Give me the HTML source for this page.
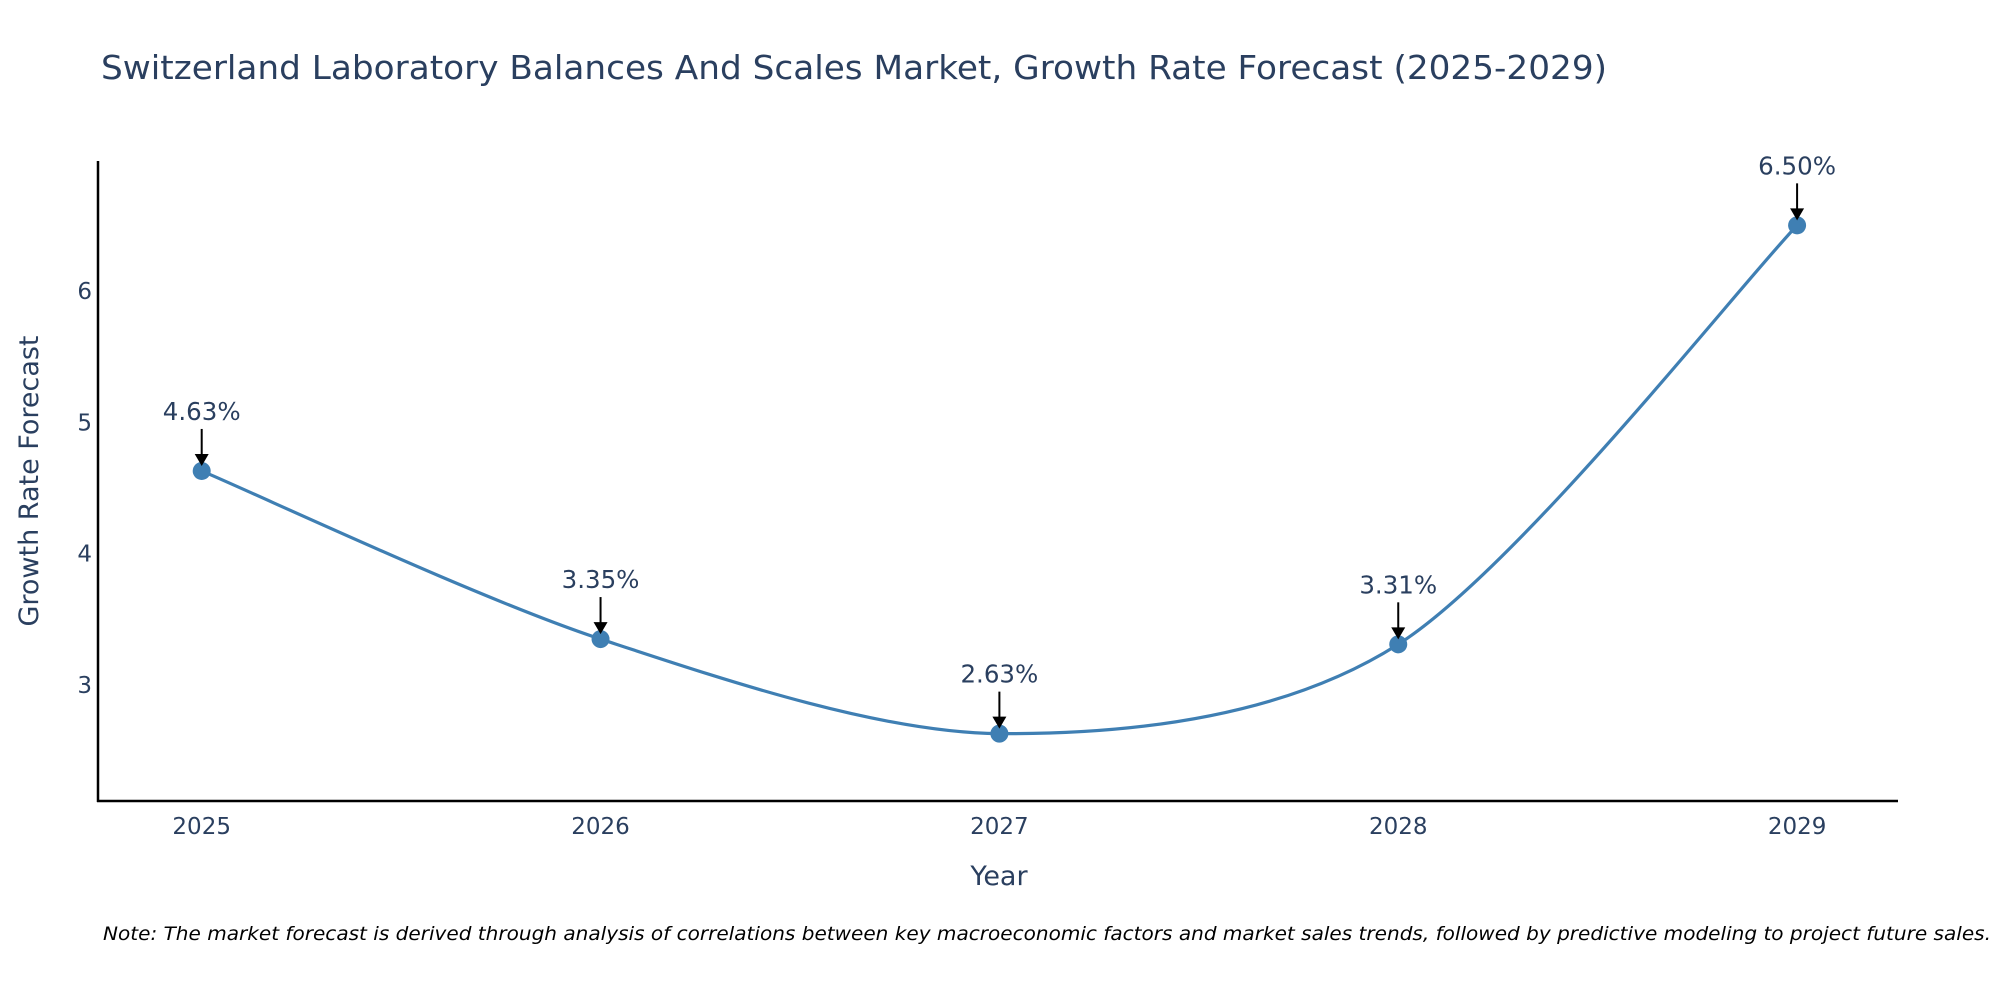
<!DOCTYPE html>
<html><head><meta charset="utf-8"><style>
body{margin:0;background:#fff}
svg text{font-family:"DejaVu Sans","Liberation Sans",sans-serif}
</style></head><body>
<svg id="chart" width="2000" height="1000" xmlns="http://www.w3.org/2000/svg">
<text x="101" y="79" font-size="33" fill="#2a3f5f" textLength="1506" lengthAdjust="spacingAndGlyphs">Switzerland Laboratory Balances And Scales Market, Growth Rate Forecast (2025-2029)</text>
<g id="yticks"></g>
<g id="xticks"></g>
<line x1="98" y1="161" x2="98" y2="802" stroke="#000" stroke-width="2.5"/>
<line x1="97" y1="801" x2="1898" y2="801" stroke="#000" stroke-width="2.5"/>
<g id="series"></g>
<g id="annots"></g>
<text transform="translate(38,481) rotate(-90)" text-anchor="middle" font-size="27" fill="#2a3f5f">Growth Rate Forecast</text>
<text x="999" y="885" text-anchor="middle" font-size="27" fill="#2a3f5f">Year</text>
<text x="103" y="940" font-size="19" font-style="italic" fill="#000" textLength="1888" lengthAdjust="spacingAndGlyphs">Note: The market forecast is derived through analysis of correlations between key macroeconomic factors and market sales trends, followed by predictive modeling to project future sales.</text>
</svg>
<script>
const years = [2025, 2026, 2027, 2028, 2029];
const values = [4.63, 3.35, 2.63, 3.31, 6.50];
const labels = ["4.63%", "3.35%", "2.63%", "3.31%", "6.50%"];
const yTicks = [3, 4, 5, 6];

const NS = "http://www.w3.org/2000/svg";
const X0 = 98, X1 = 1898, Y0 = 801, Y1 = 161;
const xmin = 2024.74, xmax = 2029.253, ymin = 2.117, ymax = 6.99;
const xs = v => X0 + (v - xmin) / (xmax - xmin) * (X1 - X0);
const ys = v => Y0 - (v - ymin) / (ymax - ymin) * (Y0 - Y1);
function mk(tag, attrs, parent) {
  const e = document.createElementNS(NS, tag);
  for (const k in attrs) e.setAttribute(k, attrs[k]);
  parent.appendChild(e);
  return e;
}
const yg = document.getElementById('yticks');
yTicks.forEach(t => {
  const e = mk('text', {x: 92, y: ys(t) + 8, 'text-anchor': 'end', 'font-size': 23, fill: '#2a3f5f'}, yg);
  
  
  e.textContent = t;
});
const xg = document.getElementById('xticks');
years.forEach(y => {
  const e = mk('text', {x: xs(y), y: 834, 'text-anchor': 'middle', 'font-size': 23, fill: '#2a3f5f'}, xg);
  
  
  e.textContent = y;
});
const pts = years.map((y, i) => [xs(y), ys(values[i])]);
let d = `M${pts[0][0]},${pts[0][1]}`;
const s = 0.15;
for (let i = 0; i < pts.length - 1; i++) {
  const p0 = pts[Math.max(i - 1, 0)], p1 = pts[i], p2 = pts[i + 1], p3 = pts[Math.min(i + 2, pts.length - 1)];
  const c1 = [p1[0] + (p2[0] - p0[0]) * s, p1[1] + (p2[1] - p0[1]) * s];
  const c2 = [p2[0] - (p3[0] - p1[0]) * s, p2[1] - (p3[1] - p1[1]) * s];
  d += ` C${c1[0]},${c1[1]} ${c2[0]},${c2[1]} ${p2[0]},${p2[1]}`;
}
const sg = document.getElementById('series');
const line = mk('path', {d: d, fill: 'none', stroke: '#3f7fb3', 'stroke-width': 3.2}, sg);


pts.forEach(p => {
  const c = mk('circle', {cx: p[0], cy: p[1], r: 9, fill: '#3f7fb3'}, sg);
  
  
});
const ag = document.getElementById('annots');
pts.forEach((p, i) => {
  mk('line', {x1: p[0], y1: p[1] - 42, x2: p[0], y2: p[1] - 16, stroke: '#000', 'stroke-width': 2}, ag);
  const a = mk('path', {d: `M${p[0]-7},${p[1]-17} L${p[0]+7},${p[1]-17} L${p[0]},${p[1]-5} Z`, fill: '#000'}, ag);
  
  
  const t = mk('text', {x: p[0], y: p[1] - 51, 'text-anchor': 'middle', 'font-size': 24.5, fill: '#2a3f5f'}, ag);
  
  
  t.textContent = labels[i];
});
</script>
</body></html>
